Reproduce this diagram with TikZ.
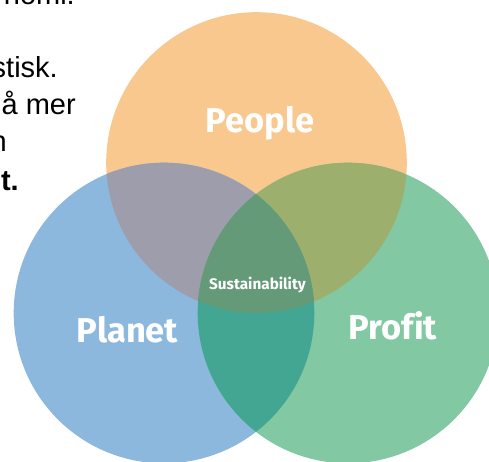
\documentclass[tikz,border=0pt]{standalone}
\usepackage{fontspec}
\setmainfont{Liberation Sans}
\newfontfamily\venfont[Ligatures=NoCommon]{Fira Sans}
\definecolor{cPeople}{RGB}{248,200,143}
\definecolor{cPlanet}{RGB}{141,184,222}
\definecolor{cProfit}{RGB}{130,200,163}
\definecolor{cPeoplePlanet}{RGB}{158,157,171}
\definecolor{cPeopleProfit}{RGB}{157,175,109}
\definecolor{cPlanetProfit}{RGB}{67,166,146}
\definecolor{cCore}{RGB}{100,154,120}
\begin{document}
\begin{tikzpicture}[x=1pt,y=1pt,
  venntitle/.style={text=white, inner sep=0, anchor=base,
    font=\venfont\bfseries\fontsize{34.5}{34.5}\selectfont},
  coretitle/.style={text=white, inner sep=0, anchor=base,
    font=\venfont\bfseries\fontsize{15.3}{15.3}\selectfont},
  bodyline/.style={text=black, inner sep=0, anchor=base east,
    font=\fontsize{29}{35}\selectfont}]
\useasboundingbox (0,0) rectangle (489,461);
\clip (0,0) rectangle (489,461);
\def\R{150.3}
\coordinate (people) at (256.5,298.5);
\coordinate (planet) at (164,148);
\coordinate (profit) at (348,148);

% single circles
\fill[cPeople] (people) circle (\R);
\fill[cPlanet] (planet) circle (\R);
\fill[cProfit] (profit) circle (\R);
% pairwise overlaps
\begin{scope}
  \clip (people) circle (\R);
  \fill[cPeoplePlanet] (planet) circle (\R);
  \fill[cPeopleProfit] (profit) circle (\R);
\end{scope}
\begin{scope}
  \clip (planet) circle (\R);
  \fill[cPlanetProfit] (profit) circle (\R);
\end{scope}
% common core
\begin{scope}
  \clip (people) circle (\R);
  \clip (planet) circle (\R);
  \fill[cCore] (profit) circle (\R);
\end{scope}

% circle titles
\node[venntitle] (tPeople) at (260,328) {People};
\node[venntitle] (tPlanet) at (127.5,119) {Planet};
\node[venntitle] (tProfit) at (393,122) {Profit};
\node[coretitle] (tCore) at (257.5,172) {Sustainability};

% running text at the left
\node[bodyline] (l1) at (75,456) {nomi.};
\node[bodyline] (l2) at (58,383) {stisk.};
\node[bodyline] (l3) at (76,346) {å mer};
\node[bodyline] (l4) at (7,309) {n};
\node[bodyline] (l5) at (19,271) {\bfseries t.};
\end{tikzpicture}
\end{document}
